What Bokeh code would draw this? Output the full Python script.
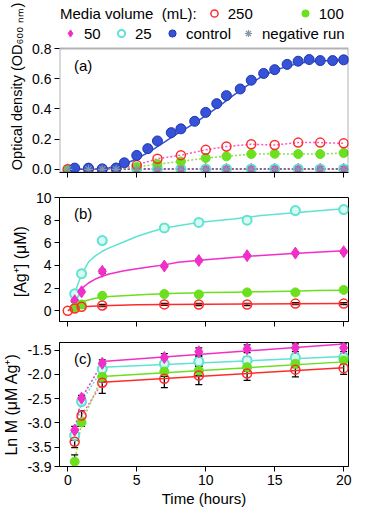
from bokeh.plotting import figure
from bokeh.layouts import column
from bokeh.models import (Range1d, FixedTicker, PrintfTickFormatter, Whisker, BoxAnnotation,
                          ColumnDataSource, Legend, LegendItem, Label)
from bokeh.embed import file_html
from bokeh.resources import INLINE

FONT = "Liberation Sans"

# ---------------- data ----------------
x_ticks = [0, 5, 10, 15, 20]

# panel (a): optical density
t_control = [0.5, 1.5, 2.5, 3.5, 4.1, 5, 5.8, 6.5, 7.5, 8.2, 9.2, 10, 10.8, 11.5,
             12.5, 13.3, 14.2, 15, 15.9, 16.7, 17.5, 18.3, 19.2, 20]
od_control = [0.008, 0.008, 0.003, 0.008, 0.043, 0.092, 0.137, 0.188, 0.243, 0.268,
              0.318, 0.377, 0.435, 0.488, 0.532, 0.59, 0.635, 0.66, 0.695, 0.716,
              0.727, 0.72, 0.72, 0.725]
t_control_fit = [0, 1, 2, 3, 4, 5, 6, 7, 8, 9, 10, 11, 12, 13, 14, 15, 16, 17, 18, 19, 20]
od_control_fit = [0.0, 0.0, 0.002, 0.01, 0.03, 0.07, 0.12, 0.18, 0.24, 0.295, 0.355,
                  0.42, 0.49, 0.555, 0.61, 0.655, 0.685, 0.705, 0.715, 0.72, 0.722]

t_a = [0, 1.5, 2.5, 3.5, 5, 6.5, 8.2, 10, 11.5, 13.3, 15, 16.7, 18.3, 20]
od_250 = [0, 0, 0, 0.003, 0.028, 0.07, 0.094, 0.129, 0.151, 0.166, 0.161, 0.177, 0.177, 0.172]
od_100 = [0, 0, 0, 0, 0.016, 0.035, 0.052, 0.075, 0.086, 0.101, 0.103, 0.101, 0.101, 0.108]
od_50 = [0, 0, 0, 0.002, 0.003, 0.003, 0.003, 0.003, 0.003, 0.003, 0.003, 0.003, 0.003, 0.003]
od_25 = [0, 0, 0, 0.008, 0.003, 0.003, 0.003, 0.003, 0.003, 0.003, 0.003, 0.003, 0.003, 0.003]
od_neg = [0, 0, 0, 0, 0, 0, 0, 0, 0, 0, 0, 0, 0, 0]

# panel (b): [Ag+] (uM)
t_b = [0.5, 1, 2.5, 7, 9.5, 13, 16.5, 20]
t_b_red = [0, 0.5, 1, 2.5, 7, 9.5, 13, 16.5, 20]
ag_250 = [0, 0.2, 0.35, 0.47, 0.56, 0.55, 0.55, 0.63, 0.63]
ag_250_err = [0.0, 0.1, 0.1, 0.1, 0.08, 0.1, 0.1, 0.08, 0.08]
ag_100 = [0.25, 0.55, 1.32, 1.48, 1.44, 1.62, 1.62, 1.84]
ag_100_err = [0.1, 0.1, 0.12, 0.12, 0.12, 0.12, 0.12, 0.1]
ag_50 = [0.88, 1.67, 3.48, 3.95, 4.44, 4.86, 5.09, 5.21]
ag_50_err = [0.12, 0.12, 0.18, 0.12, 0.12, 0.1, 0.1, 0.12]
ag_25 = [1.5, 3.27, 6.2, 7.31, 7.8, 8.0, 8.85, 8.93]
ag_25_err = [0.12, 0.12, 0.12, 0.1, 0.1, 0.15, 0.18, 0.15]

t_fit_b = [0.5, 0.75, 1, 1.5, 2, 2.5, 3, 4, 5, 6, 7, 8, 9, 10, 12, 14, 16, 18, 20]
fit_25 = [1.45, 2.4, 3.2, 4.3, 4.85, 5.25, 5.55, 6.05, 6.55, 6.95, 7.3, 7.5, 7.7,
          7.85, 8.1, 8.4, 8.6, 8.8, 9.0]
fit_50 = [0.9, 1.4, 1.95, 2.45, 2.8, 3.05, 3.25, 3.5, 3.7, 3.88, 4.05, 4.28, 4.4,
          4.5, 4.7, 4.88, 5.03, 5.17, 5.3]
fit_100 = [0.45, 0.62, 0.78, 0.95, 1.1, 1.2, 1.26, 1.33, 1.4, 1.45, 1.5, 1.54, 1.57,
           1.6, 1.64, 1.68, 1.73, 1.78, 1.82]
t_fit_b_red = [0, 0.25, 0.5, 1, 2.5, 5, 7, 10, 13, 16.5, 20]
fit_250 = [0.0, 0.18, 0.28, 0.35, 0.45, 0.52, 0.55, 0.58, 0.6, 0.62, 0.64]

# panel (c): Ln M
t_c = [0.5, 1, 2.5, 7, 9.5, 13, 16.5, 20]
ln_50 = [-3.15, -2.49, -1.77, -1.65, -1.53, -1.47, -1.45, -1.45]
ln_50_err = [0.08, 0.06, 0.07, 0.08, 0.08, 0.08, 0.08, 0.08]
ln_25 = [-3.26, -2.56, -1.89, -1.78, -1.73, -1.71, -1.65, -1.65]
ln_25_err = [0.1, 0.08, 0.1, 0.1, 0.1, 0.08, 0.08, 0.08]
ln_100 = [-3.80, -2.99, -2.05, -1.94, -1.92, -1.85, -1.78, -1.71]
ln_100_err = [0.14, 0.08, 0.1, 0.1, 0.1, 0.08, 0.08, 0.08]
ln_250 = [-3.39, -2.85, -2.17, -2.09, -2.02, -1.98, -1.90, -1.87]
ln_250_err = [0.12, 0.1, 0.22, 0.18, 0.19, 0.14, 0.15, 0.13]
t_fit_c = [2.5, 20]
fit_c_50 = [-1.73, -1.37]
fit_c_25 = [-1.85, -1.63]
fit_c_100 = [-2.04, -1.74]
fit_c_250 = [-2.16, -1.86]

a_ticks = [0.0, 0.2, 0.4, 0.6, 0.8]
b_ticks = [0, 2, 4, 6, 8, 10]
c_ticks = [-3.9, -3.5, -3.0, -2.5, -2.0, -1.5]

# ---------------- styles ----------------
RED = "#ff2b2b"
RED_DOT = "#ff55c0"
GREEN = "#6be01f"
GREEN_DOT = "#8fdc4a"
MAGENTA = "#f22ec8"
CYAN = "#5fe3d2"
BLUE = "#3552d8"
GRAY = "#8596ac"
W = 358
X0, X1 = -0.6, 20.35


def base_fig(height, yr, top, bottom, yticks, ylabel, fmt=None, show_x=False, label_size="16px"):
    p = figure(width=W, height=height, x_range=Range1d(X0, X1),
               y_range=Range1d(*yr), output_backend="svg", toolbar_location=None,
               min_border_left=53, min_border_right=10, min_border_top=top,
               min_border_bottom=bottom)
    p.grid.visible = False
    p.outline_line_color = "black"
    p.outline_line_width = 1
    p.background_fill_color = "white"
    p.border_fill_color = "white"
    for ax in (p.xaxis[0], p.yaxis[0]):
        ax.axis_line_color = "black"
        ax.major_tick_line_color = "black"
        ax.major_tick_out = 5
        ax.major_tick_in = 0
        ax.minor_tick_line_color = None
        ax.major_label_text_font = FONT
        ax.major_label_text_font_size = "14px"
        ax.major_label_text_color = "black"
        ax.major_label_standoff = 3
        ax.axis_label_text_font = FONT
        ax.axis_label_text_font_style = "normal"
        ax.axis_label_text_color = "black"
    p.yaxis.ticker = FixedTicker(ticks=yticks)
    if fmt:
        p.yaxis.formatter = PrintfTickFormatter(format=fmt)
    p.yaxis.axis_label = ylabel
    p.yaxis.axis_label_text_font_size = label_size
    p.yaxis.axis_label_standoff = 4
    if show_x:
        p.xaxis.ticker = FixedTicker(ticks=x_ticks)
        p.xaxis.axis_label = "Time (hours)"
        p.xaxis.axis_label_text_font_size = "15px"
        p.xaxis.axis_label_standoff = 2
    else:
        # tick marks only, no tick labels
        p.xaxis.ticker = FixedTicker(ticks=[], minor_ticks=x_ticks)
        p.xaxis.minor_tick_line_color = "black"
        p.xaxis.minor_tick_out = 5
        p.xaxis.minor_tick_in = 0
    return p


def panel_label(p, x, y, text):
    p.add_layout(Label(x=x, y=y, text=text, text_font=FONT, text_font_size="15px",
                       text_baseline="middle", text_color="black"))


def whiskers(p, t, v, e):
    src = ColumnDataSource(data=dict(t=t, lo=[a - b for a, b in zip(v, e)],
                                     hi=[a + b for a, b in zip(v, e)]))
    w = Whisker(source=src, base="t", lower="lo", upper="hi", dimension="height",
                line_color="black", line_width=1.3)
    w.upper_head.size = 7
    w.lower_head.size = 7
    w.upper_head.line_color = "black"
    w.lower_head.line_color = "black"
    w.upper_head.line_width = 1.3
    w.lower_head.line_width = 1.3
    p.add_layout(w)


# ---------------- panel (a) ----------------
# the frame of (a) reaches up to the page top so that the legend rows can sit in it;
# the visible plot box (up to OD 0.8) is drawn as a box annotation.
A_TOP = 0.8
pa = base_fig(189, (-0.021, 1.118), 0, 17, a_ticks,
              "Optical density (OD\u2086\u2080\u2080 \u2099\u2098)", "%.1f", label_size="14.5px")
pa.outline_line_color = None
pa.yaxis.axis_line_color = None
pa.add_layout(BoxAnnotation(left=X0, right=X1, bottom=-0.021, top=A_TOP, fill_alpha=0,
                            line_color="black", line_width=2))

DOT = "2 2"
pa.line(t_a, od_neg, line_color="#5b6b80", line_dash=DOT, line_width=1.3)
pa.line(t_a, od_25, line_color=CYAN, line_dash=DOT, line_width=1.3)
pa.line(t_a, od_50, line_color="#b0208a", line_dash=DOT, line_width=1.3)
pa.line(t_a, od_100, line_color=GREEN_DOT, line_dash=DOT, line_width=1.5)
pa.line(t_a, od_250, line_color=RED_DOT, line_dash=DOT, line_width=1.5)
pa.line(t_control_fit, od_control_fit, line_color=BLUE, line_width=1.5)

r50 = pa.scatter(t_a, od_50, marker="diamond", size=11, fill_color=MAGENTA, line_color=MAGENTA)
r25 = pa.scatter(t_a, od_25, marker="circle", size=9, fill_color="white", fill_alpha=0.0,
                 line_color=CYAN, line_width=2)
r100 = pa.scatter(t_a, od_100, marker="circle", size=9, fill_color=GREEN, line_color=GREEN)
r250 = pa.scatter(t_a, od_250, marker="circle", size=9, fill_color="white", fill_alpha=0.0,
                  line_color=RED, line_width=1.5)
rctl = pa.scatter(t_control, od_control, marker="circle", size=10, fill_color=BLUE,
                  line_color="#2238a8")
rneg = pa.scatter(t_a, od_neg, marker="asterisk", size=9, line_color=GRAY, line_width=1.2)
rblank = pa.scatter(x=[], y=[], size=0, fill_alpha=0, line_alpha=0)
panel_label(pa, 0.45, 0.688, "(a)")

leg_common = dict(orientation="horizontal", border_line_color=None, background_fill_alpha=0,
                  padding=0, margin=0, glyph_width=18, glyph_height=18, label_height=18,
                  label_text_font=FONT, label_text_font_size="15px", label_text_color="black",
                  label_standoff=5, spacing=8)
leg2 = Legend(items=[LegendItem(label="50", renderers=[r50]),
                     LegendItem(label="25", renderers=[r25]),
                     LegendItem(label="control", renderers=[rctl]),
                     LegendItem(label="negative run", renderers=[rneg])],
              location=(2, 130), **leg_common)
leg1 = Legend(items=[LegendItem(label="Media volume  (mL):", renderers=[rblank]),
                     LegendItem(label="250", renderers=[r250]),
                     LegendItem(label="100", renderers=[r100])],
              location=(-22, 150), label_width=60, **leg_common)
pa.add_layout(leg2)
pa.add_layout(leg1)

# ---------------- panel (b) ----------------
pb = base_fig(145, (-0.95, 10), 8, 13, b_ticks, "[Ag\u207a]  (\u03bcM)")
pb.line(t_fit_b, fit_25, line_color=CYAN, line_width=1.5)
pb.line(t_fit_b, fit_50, line_color=MAGENTA, line_width=1.5)
pb.line(t_fit_b, fit_100, line_color=GREEN, line_width=1.5)
pb.line(t_fit_b_red, fit_250, line_color=RED, line_width=1.5)
pb.scatter(t_b, ag_25, marker="circle", size=9, fill_color="#d8f8f2", line_color=CYAN, line_width=2)
pb.scatter(t_b, ag_50, marker="diamond", size=12, fill_color=MAGENTA, line_color=MAGENTA)
pb.scatter(t_b, ag_100, marker="circle", size=9, fill_color=GREEN, line_color=GREEN)
pb.scatter(t_b_red, ag_250, marker="circle", size=9, fill_color="white", fill_alpha=0.0,
           line_color=RED, line_width=1.5)
whiskers(pb, t_b, ag_25, ag_25_err)
whiskers(pb, t_b, ag_50, ag_50_err)
whiskers(pb, t_b, ag_100, ag_100_err)
whiskers(pb, t_b_red[1:], ag_250[1:], ag_250_err[1:])
panel_label(pb, 0.45, 8.55, "(b)")

# ---------------- panel (c) ----------------
pc = base_fig(178, (-3.9, -1.34), 8, 46, c_ticks, "Ln M (\u03bcM Ag\u207a)", "%.1f", show_x=True)
for vals, fit, col, dcol in [(ln_250, fit_c_250, RED, RED_DOT), (ln_100, fit_c_100, GREEN, GREEN_DOT),
                             (ln_25, fit_c_25, CYAN, CYAN), (ln_50, fit_c_50, MAGENTA, MAGENTA)]:
    pc.line(t_c[:3], vals[:3], line_color=dcol, line_dash=DOT, line_width=1.5)
    pc.line(t_fit_c, fit, line_color=col, line_width=1.5)
pc.scatter(t_c, ln_25, marker="circle", size=9, fill_color="#d8f8f2", line_color=CYAN, line_width=2)
pc.scatter(t_c, ln_100, marker="circle", size=9, fill_color=GREEN, line_color=GREEN)
pc.scatter(t_c, ln_50, marker="diamond", size=12, fill_color=MAGENTA, line_color=MAGENTA)
pc.scatter(t_c, ln_250, marker="circle", size=9, fill_color="white", fill_alpha=0.0,
           line_color=RED, line_width=1.5)
whiskers(pc, t_c, ln_25, ln_25_err)
whiskers(pc, t_c, ln_100, ln_100_err)
whiskers(pc, t_c, ln_50, ln_50_err)
whiskers(pc, t_c, ln_250, ln_250_err)
panel_label(pc, 0.45, -1.67, "(c)")

layout = column(pa, pb, pc, spacing=0)
open("out.html", "w").write(file_html(layout, INLINE))
